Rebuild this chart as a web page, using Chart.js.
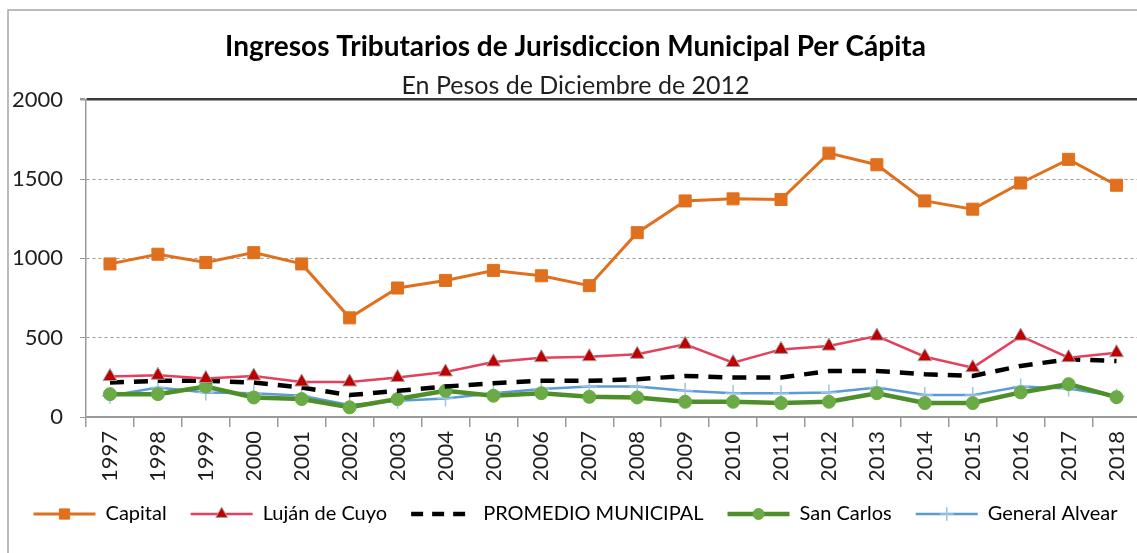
<!DOCTYPE html>
<html>
<head>
<meta charset="utf-8">
<script src="https://cdn.jsdelivr.net/npm/chart.js@4"></script>
<style>
  html, body { margin: 0; padding: 0; background: #fff; overflow: hidden; }
  #wrap { position: relative; width: 1150px; height: 553px; }
</style>
</head>
<body>
<div id="wrap"><canvas id="grafico"></canvas></div>
<script>
const anios = ['1997','1998','1999','2000','2001','2002','2003','2004','2005','2006','2007',
  '2008','2009','2010','2011','2012','2013','2014','2015','2016','2017','2018'];

const capital   = [965,1026,974,1036,965,625,813,861,924,890,828,1162,1362,1375,1371,1663,1590,1362,1310,1475,1624,1461];
const lujan     = [255,263,243,259,221,221,249,284,347,374,380,395,458,343,426,447,510,380,311,510,374,405];
const promedio  = [217,228,228,217,186,138,165,192,213,228,228,238,259,249,249,290,290,270,259,322,364,353];
const sanCarlos = [144,144,192,123,113,61,113,165,134,150,127,123,96,96,88,96,150,88,88,155,207,125];
const genAlvear = [134,186,155,150,134,75,102,117,150,176,192,192,165,150,150,155,186,138,138,192,180,130];

const yTicks = [0, 500, 1000, 1500, 2000];

const FONT = "Lato, 'Open Sans', sans-serif";
const TXT = '#1f1f1f';
const EJE = '#9a9a9a';

// marco gris del grafico (como en Excel) y fondo blanco
const marco = {
  id: 'marco',
  beforeDraw(chart) {
    const c = chart.ctx;
    c.save();
    c.fillStyle = '#fff';
    c.fillRect(0, 0, chart.width, chart.height);
    c.strokeStyle = '#a6a6a6';
    c.lineWidth = 1.5;
    c.beginPath();
    c.moveTo(8, chart.height);
    c.lineTo(8, 10);
    c.lineTo(chart.width, 10);
    c.stroke();
    c.restore();
  }
};

// muestras de la leyenda: linea + marcador
const muestras = {
  id: 'muestras',
  afterDraw(chart) {
    const lg = chart.legend;
    if (!lg || !lg.legendHitBoxes) return;
    const c = chart.ctx;
    const bw = lg.options.labels.boxWidth;
    lg.legendHitBoxes.forEach((hb, i) => {
      const ds = chart.data.datasets[i];
      const y = hb.top + hb.height / 2;
      c.save();
      c.strokeStyle = ds.borderColor;
      c.lineWidth = ds.borderWidth;
      c.setLineDash(ds.borderDash ? [12, 9] : []);
      c.beginPath();
      c.moveTo(hb.left, y);
      c.lineTo(hb.left + bw, y);
      c.stroke();
      c.setLineDash([]);
      if (ds.pointRadius > 0) {
        c.fillStyle = ds.pointBackgroundColor;
        c.strokeStyle = ds.pointBorderColor;
        c.lineWidth = ds.pointBorderWidth;
        Chart.helpers.drawPoint(c, {
          pointStyle: ds.pointStyle,
          radius: ds.pointRadius * 0.85,
          borderWidth: ds.pointBorderWidth,
          rotation: 0
        }, hb.left + bw / 2, y);
      }
      c.restore();
    });
  }
};

new Chart(document.getElementById('grafico'), {
  type: 'line',
  data: {
    labels: anios,
    datasets: [
      {
        label: 'Capital',
        data: capital,
        borderColor: '#e0701e',
        borderWidth: 3,
        pointStyle: 'rect',
        pointRadius: 8.5,
        pointBackgroundColor: '#e0701e',
        pointBorderColor: '#e0701e',
        pointBorderWidth: 1
      },
      {
        label: 'Luján de Cuyo',
        data: lujan,
        borderColor: '#e4405f',
        borderWidth: 2.5,
        pointStyle: 'triangle',
        pointRadius: 8,
        pointBackgroundColor: '#c00000',
        pointBorderColor: '#a0a0a0',
        pointBorderWidth: 1
      },
      {
        label: 'PROMEDIO MUNICIPAL',
        data: promedio,
        borderColor: '#000000',
        borderWidth: 4.5,
        borderDash: [14, 10],
        pointRadius: 0
      },
      {
        label: 'San Carlos',
        data: sanCarlos,
        borderColor: '#4e8f2a',
        borderWidth: 4.5,
        pointStyle: 'circle',
        pointRadius: 6.5,
        pointBackgroundColor: '#6aab45',
        pointBorderColor: '#6aab45',
        pointBorderWidth: 1
      },
      {
        label: 'General Alvear',
        data: genAlvear,
        borderColor: '#5b9bd5',
        borderWidth: 2.5,
        pointStyle: 'cross',
        pointRadius: 8,
        pointBackgroundColor: '#9dc3e6',
        pointBorderColor: '#9dc3e6',
        pointBorderWidth: 1.5
      }
    ]
  },
  options: {
    responsive: true,
    maintainAspectRatio: false,
    animation: false,
    layout: { padding: { top: 30, left: 8, right: 7, bottom: 19 } },
    elements: { line: { tension: 0 } },
    plugins: {
      title: {
        display: true,
        text: 'Ingresos Tributarios de Jurisdiccion Municipal Per Cápita',
        color: '#000',
        font: { family: FONT, size: 28, weight: 'bold', lineHeight: 1.2 },
        padding: { top: 0, bottom: 8.6 }
      },
      subtitle: {
        display: true,
        text: 'En Pesos de Diciembre de 2012',
        color: TXT,
        font: { family: FONT, size: 25, lineHeight: 1.1 },
        padding: { top: 0, bottom: 0 }
      },
      legend: {
        position: 'bottom',
        labels: {
          color: TXT,
          font: { family: FONT, size: 20 },
          boxWidth: 62,
          boxHeight: 14,
          padding: 24,
          generateLabels: chart => chart.data.datasets.map((ds, i) => ({
            text: ds.label,
            fillStyle: 'rgba(0,0,0,0)',
            strokeStyle: 'rgba(0,0,0,0)',
            lineWidth: 0,
            datasetIndex: i,
            hidden: false
          }))
        }
      },
      tooltip: { enabled: false }
    },
    scales: {
      x: {
        offset: true,
        grid: {
          offset: true,
          drawOnChartArea: false,
          color: EJE,
          tickColor: EJE,
          tickLength: 10,
          lineWidth: 1.5
        },
        border: { color: EJE, width: 1.5 },
        ticks: {
          color: TXT,
          font: { family: FONT, size: 22 },
          minRotation: 90,
          maxRotation: 90,
          padding: 4,
          autoSkip: false
        },
        afterFit: s => { s.height = 63; }
      },
      y: {
        min: 0,
        max: 2000,
        afterBuildTicks: s => { s.ticks = yTicks.map(v => ({ value: v })); },
        grid: {
          color: ctx => ctx.tick && ctx.tick.value === 2000 ? '#3a3a3a' : EJE,
          lineWidth: ctx => ctx.tick && ctx.tick.value === 2000 ? 2.5 : 1,
          tickColor: EJE,
          tickLength: 6
        },
        border: {
          color: EJE,
          width: 1.5,
          dash: ctx => ctx.tick && ctx.tick.value > 0 && ctx.tick.value < 2000 ? [3, 3] : []
        },
        ticks: {
          color: TXT,
          font: { family: FONT, size: 22 },
          padding: 17,
          callback: v => String(v)
        },
        afterFit: s => { s.width = 78; }
      }
    }
  },
  plugins: [marco, muestras]
});
</script>
</body>
</html>
